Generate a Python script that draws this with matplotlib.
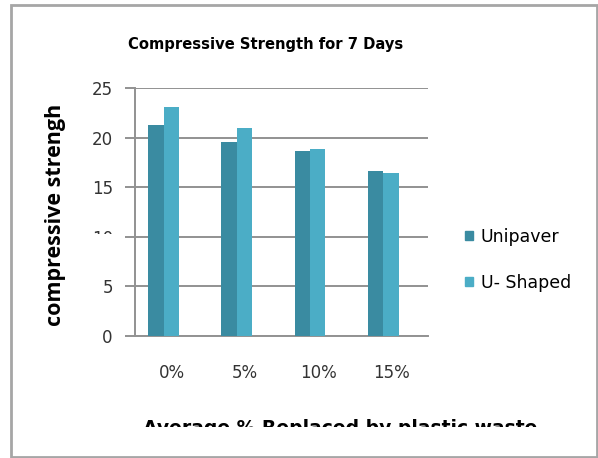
import matplotlib
matplotlib.use("Agg")
import matplotlib.pyplot as plt
import numpy as np
from matplotlib.patches import Rectangle, Patch

# data
categories = ["0%", "5%", "10%", "15%"]
unipaver = [21.3, 19.6, 18.65, 16.6]
u_shaped = [23.05, 21.0, 18.85, 16.4]
y_ticks = [0, 5, 10, 15, 20, 25]

W, H = 598, 458
fig = plt.figure(figsize=(W / 100, H / 100), dpi=100)


def fx(px):
    return px / W


def fy(py):
    return 1 - py / H


ax = fig.add_axes([fx(135), fy(336), fx(428) - fx(135), fy(88) - fy(336)])

x = np.arange(len(categories))
width = 0.21
shift = -0.11
ax.bar(x + shift - width / 2, unipaver, width, color="#3a8ba1", label="Unipaver", zorder=3)
ax.bar(x + shift + width / 2, u_shaped, width, color="#4badc6", label="U- Shaped", zorder=3)

ax.set_xlim(-0.5, len(categories) - 0.5)
ax.set_ylim(0, 25)
ax.set_yticks(y_ticks)
ax.set_xticks(x)
ax.set_xticklabels(categories)
ax.yaxis.grid(True, color="#929292", linewidth=1.4, zorder=0)
ax.set_axisbelow(True)
for side in ["top", "right"]:
    ax.spines[side].set_visible(False)
ax.spines["left"].set_color("#929292")
ax.spines["left"].set_linewidth(1.4)
ax.spines["bottom"].set_color("#929292")
ax.spines["bottom"].set_linewidth(1.4)
ax.tick_params(axis="y", length=7, width=1.4, color="#929292", pad=9,
               labelsize=12, labelcolor="#333333")
ax.tick_params(axis="x", length=0, pad=20, labelsize=12, labelcolor="#333333")

# title, axis titles
fig.text(fx(266), fy(45), "Compressive Strength for 7 Days", ha="center", va="center",
         fontsize=10.6, fontweight="bold")
fig.text(fx(55), fy(215), "compressive strengh", rotation=90, ha="center", va="center",
         fontsize=15.5, fontweight="bold", family=["Open Sans", "DejaVu Sans"])
fig.text(fx(340), fy(419), "Average % Replaced by plastic waste", ha="center", va="top",
         fontsize=13.5, fontweight="bold")

# the reference cuts the x title and the "10" label off
fig.patches.append(Rectangle((fx(120), fy(450)), fx(560) - fx(120), fy(427) - fy(450),
                             transform=fig.transFigure, facecolor="white",
                             edgecolor="none", zorder=10))
fig.patches.append(Rectangle((fx(84), fy(246)), fx(120) - fx(84), fy(234) - fy(246),
                             transform=fig.transFigure, facecolor="white",
                             edgecolor="none", zorder=10))

handles = [Patch(color="#3a8ba1"), Patch(color="#4badc6")]
fig.legend(handles, ["Unipaver", "U- Shaped"], loc="upper left",
           bbox_to_anchor=(fx(465), fy(228)), frameon=False, fontsize=12.5,
           handlelength=0.45, handleheight=0.45, handletextpad=0.45,
           labelspacing=1.6, borderpad=0, borderaxespad=0)

# outer chart frame
fig.patches.append(Rectangle((fx(11), fy(457)), fx(597) - fx(11), fy(5) - fy(457),
                             transform=fig.transFigure, facecolor="none",
                             edgecolor="#a6a6a6", linewidth=2, zorder=11))

fig.savefig("out.png", dpi=100)
